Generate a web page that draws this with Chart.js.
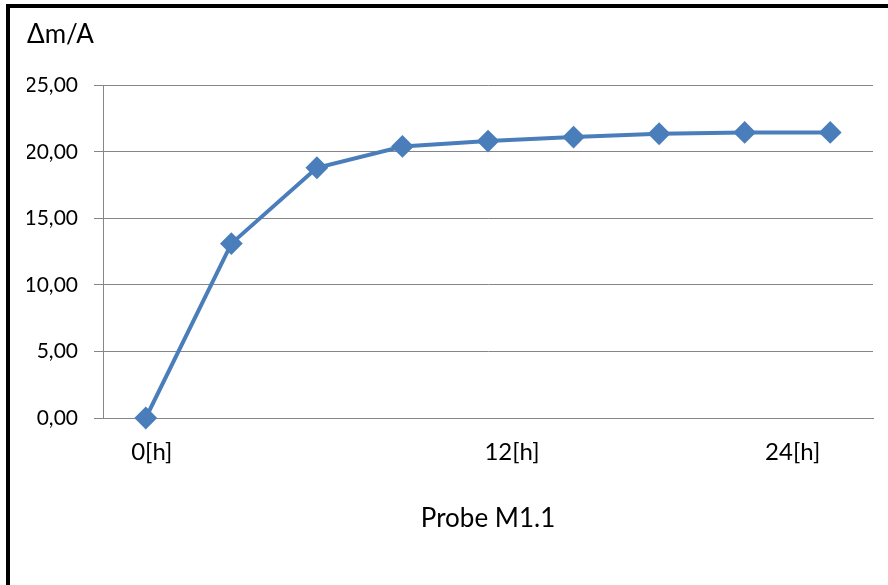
<!DOCTYPE html>
<html>
<head>
<meta charset="utf-8">
<script src="https://cdn.jsdelivr.net/npm/chart.js@4"></script>
<style>
  html, body { margin: 0; padding: 0; background: #fff; overflow: hidden; }
  #wrap { position: relative; width: 888px; height: 585px; }
  #frame { position: absolute; left: 6px; top: 4px; width: 900px; height: 700px;
           border-left: 4px solid #000; border-top: 4px solid #000; pointer-events: none; }
</style>
</head>
<body>
<div id="wrap">
  <canvas id="chart" width="888" height="585"></canvas>
  <div id="frame"></div>
</div>
<script>
// Probe M1.1 - Massenzunahme pro Fläche
const xLabels = ['0[h]', '', '', '', '12[h]', '', '', '24[h]', ''];
const massPerArea = [0.00, 13.1, 18.8, 20.4, 20.8, 21.1, 21.35, 21.45, 21.45];
const yTicks = [0, 5, 10, 15, 20, 25];

const FONT = 'Lato, "Open Sans", sans-serif';
const lineColor = '#4a7ebb';
const gridColor = '#868686';

// shift the few category labels a bit to the right like in the original
const enSpaces = { 0: 1, 4: 4, 7: 8 };

const ctx = document.getElementById('chart').getContext('2d');
new Chart(ctx, {
    type: 'line',
    data: {
        labels: xLabels,
        datasets: [{
            label: 'Probe M1.1',
            data: massPerArea,
            borderColor: lineColor,
            backgroundColor: lineColor,
            borderWidth: 4,
            pointStyle: 'rectRot',
            pointRadius: 10,
            pointBorderWidth: 2,
            pointBorderColor: lineColor,
            pointBackgroundColor: lineColor,
            tension: 0,
            clip: false
        }]
    },
    options: {
        responsive: false,
        animation: false,
        layout: { padding: { left: 27, right: 15, top: 0, bottom: 51 } },
        plugins: {
            legend: { display: false },
            tooltip: { enabled: false },
            title: {
                display: true,
                text: 'Δm/A',
                align: 'start',
                color: '#000',
                font: { family: FONT, size: 26, weight: 'normal' },
                padding: { top: 19, bottom: 35 }
            }
        },
        scales: {
            x: {
                offset: true,
                grid: { display: false },
                border: { display: true, color: gridColor, width: 1 },
                ticks: {
                    autoSkip: false,
                    maxRotation: 0,
                    padding: 12,
                    color: '#000',
                    font: { family: FONT, size: 24 },
                    callback: function (value, index) {
                        const lbl = xLabels[index];
                        if (!lbl) return '';
                        return '\u2002'.repeat(enSpaces[index] || 0) + lbl;
                    }
                },
                title: {
                    display: true,
                    text: 'Probe M1.1',
                    color: '#000',
                    font: { family: FONT, size: 26 },
                    padding: { top: 24, bottom: 0 }
                }
            },
            y: {
                min: 0,
                max: 25,
                afterBuildTicks: function (scale) {
                    scale.ticks = yTicks.map(v => ({ value: v }));
                },
                afterFit: function (scale) { scale.width = 103 - 27; },
                grid: { color: gridColor, lineWidth: 1, drawTicks: true, tickLength: 9 },
                border: { display: true, color: gridColor, width: 1 },
                ticks: {
                    padding: 16,
                    color: '#000',
                    font: { family: FONT, size: 21 },
                    callback: v => v.toFixed(2).replace('.', ',')
                }
            }
        }
    }
});
</script>
</body>
</html>
